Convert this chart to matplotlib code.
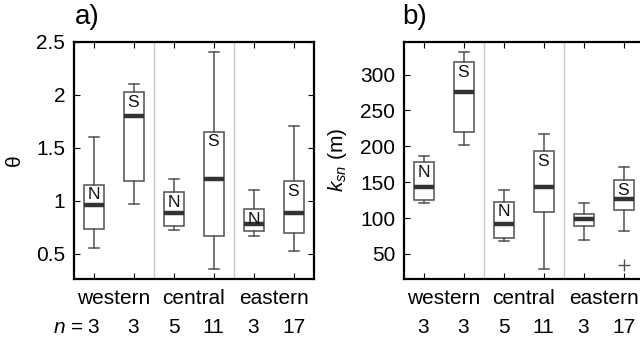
import matplotlib
matplotlib.use("Agg")
import matplotlib.pyplot as plt

plt.rcParams["font.family"] = ["Liberation Sans", "DejaVu Sans"]
plt.rcParams["mathtext.fontset"] = "custom"
plt.rcParams["mathtext.rm"] = "Liberation Sans"
plt.rcParams["mathtext.it"] = "Liberation Sans:italic"

# Groups and per-box sample counts
groups = ["western", "central", "eastern"]
counts = [3, 3, 5, 11, 3, 17]
box_labels_a = ["N", "S", "N", "S", "N", "S"]
box_labels_b = ["N", "S", "N", "S", "", "S"]

# Panel a: concavity index theta (whisker low, Q1, median, Q3, whisker high)
theta_wlo = [0.55, 0.97, 0.72, 0.35, 0.67, 0.52]
theta_q1 = [0.73, 1.18, 0.76, 0.67, 0.71, 0.69]
theta_med = [0.96, 1.80, 0.88, 1.20, 0.78, 0.88]
theta_q3 = [1.15, 2.02, 1.08, 1.65, 0.92, 1.18]
theta_whi = [1.60, 2.10, 1.20, 2.40, 1.10, 1.70]
theta_fliers = [[], [], [], [], [], []]

# Panel b: normalised steepness index ksn (m)
ksn_wlo = [121, 202, 68, 29, 69, 82]
ksn_q1 = [125, 220, 72, 108, 89, 111]
ksn_med = [143, 275, 92, 143, 99, 127]
ksn_q3 = [178, 317, 123, 193, 106, 153]
ksn_whi = [187, 331, 139, 217, 121, 171]
ksn_fliers = [[], [], [], [], [], [34]]

FS = 15
positions = list(range(1, len(counts) + 1))


def make_stats(wlo, q1, med, q3, whi, fliers):
    return [dict(whislo=a, q1=b, med=c, q3=d, whishi=e, fliers=f)
            for a, b, c, d, e, f in zip(wlo, q1, med, q3, whi, fliers)]


def draw_panel(ax, stats, labels, ylim, yticks, yticklabels, right_ticks):
    for xs in (2.5, 4.5):
        ax.axvline(xs, color="#c8c8c8", lw=1.0, zorder=0)
    ax.bxp(stats, positions=positions, widths=0.5, patch_artist=True,
           showfliers=True,
           boxprops=dict(facecolor="white", edgecolor="#505050", lw=1.1),
           whiskerprops=dict(color="#505050", lw=1.1),
           capprops=dict(color="#505050", lw=1.1),
           medianprops=dict(color="#333333", lw=3.2, solid_capstyle="butt"),
           flierprops=dict(marker="+", markeredgecolor="#505050",
                           markersize=8, markeredgewidth=1.0),
           capwidths=0.25, manage_ticks=False)
    for x, st, lab in zip(positions, stats, labels):
        if lab:
            ax.annotate(lab, (x, st["q3"]), xytext=(0, -2.0),
                        textcoords="offset points", ha="center", va="top",
                        fontsize=12.5, color="#111111")
    ax.set_xlim(0.5, 6.5)
    ax.set_ylim(*ylim)
    ax.set_yticks(yticks)
    ax.set_yticklabels(yticklabels, fontsize=FS)
    ax.set_xticks(positions)
    ax.set_xticklabels([])
    ax.tick_params(direction="in", length=4, width=0.8, top=True,
                   right=right_ticks, pad=6, colors="black")
    for sp in ax.spines.values():
        sp.set_linewidth(1.6)
    tr = ax.get_xaxis_transform()
    for i, g in enumerate(groups):
        ax.text(1.5 + 2 * i, -0.08, g, transform=tr, ha="center", va="center",
                fontsize=FS, clip_on=False)
    for x, n in zip(positions, counts):
        ax.text(x, -0.205, str(n), transform=tr, ha="center", va="center",
                fontsize=FS, clip_on=False)


fig = plt.figure(figsize=(6.4, 3.43), dpi=100)
ax_a = fig.add_axes([73.5 / 640, 64 / 343, 240 / 640, 237.5 / 343])
ax_b = fig.add_axes([403.5 / 640, 64 / 343, 240 / 640, 237.5 / 343])

draw_panel(ax_a,
           make_stats(theta_wlo, theta_q1, theta_med, theta_q3, theta_whi, theta_fliers),
           box_labels_a, (0.26, 2.5), [0.5, 1, 1.5, 2, 2.5],
           ["0.5", "1", "1.5", "2", "2.5"], True)
draw_panel(ax_b,
           make_stats(ksn_wlo, ksn_q1, ksn_med, ksn_q3, ksn_whi, ksn_fliers),
           box_labels_b, (15, 346), [50, 100, 150, 200, 250, 300],
           ["50", "100", "150", "200", "250", "300"], False)

ax_a.set_ylabel("θ", fontsize=FS, labelpad=9)
ax_b.set_ylabel("$k_{sn}$ (m)", fontsize=FS, labelpad=8)

# "n =" prefix for the sample-count row
ax_a.text(0.74, -0.205, "$n$ =", transform=ax_a.get_xaxis_transform(),
          ha="right", va="center", fontsize=FS, clip_on=False)

fig.text(75 / 640, 1 - 24 / 343, "a)", fontsize=20, ha="left", va="baseline")
fig.text(402 / 640, 1 - 24 / 343, "b)", fontsize=20, ha="left", va="baseline")

fig.savefig("out.png", dpi=100)
